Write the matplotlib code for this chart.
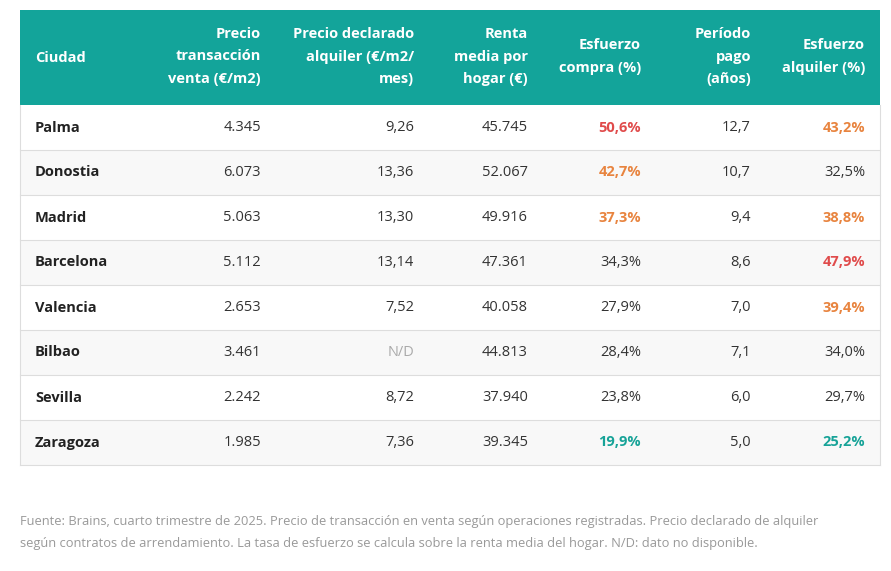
import matplotlib
matplotlib.use("Agg")
import matplotlib.pyplot as plt
from matplotlib.patches import Rectangle

plt.rcParams['font.family'] = ['Open Sans', 'DejaVu Sans']

headers = ["Ciudad", "Precio\ntransacción\nventa (€/m2)", "Precio declarado\nalquiler (€/m2/\nmes)",
           "Renta\nmedia por\nhogar (€)", "Esfuerzo\ncompra (%)", "Período\npago\n(años)", "Esfuerzo\nalquiler (%)"]
cities = ["Palma", "Donostia", "Madrid", "Barcelona", "Valencia", "Bilbao", "Sevilla", "Zaragoza"]
venta = ["4.345", "6.073", "5.063", "5.112", "2.653", "3.461", "2.242", "1.985"]
alquiler = ["9,26", "13,36", "13,30", "13,14", "7,52", "N/D", "8,72", "7,36"]
renta = ["45.745", "52.067", "49.916", "47.361", "40.058", "44.813", "37.940", "39.345"]
esf_compra = ["50,6%", "42,7%", "37,3%", "34,3%", "27,9%", "28,4%", "23,8%", "19,9%"]
periodo = ["12,7", "10,7", "9,4", "8,6", "7,0", "7,1", "6,0", "5,0"]
esf_alq = ["43,2%", "32,5%", "38,8%", "47,9%", "39,4%", "34,0%", "29,7%", "25,2%"]
compra_lvl = ["red", "orange", "orange", None, None, None, None, "teal"]
alq_lvl = ["orange", None, "orange", "red", "orange", None, None, "teal"]

C = {"red": "#e04b4b", "orange": "#e8843f", "teal": "#17a398", None: "#333333"}
TEAL = "#13a49a"

W, H = 891, 571
fig = plt.figure(figsize=(W/100, H/100), dpi=100)
ax = fig.add_axes([0, 0, 1, 1])
ax.set_xlim(0, W); ax.set_ylim(H, 0); ax.axis('off')

x0, x1 = 20, 880
hy0, hy1 = 10, 105
rh = 45
ax.add_patch(Rectangle((x0, hy0), x1-x0, hy1-hy0, color=TEAL, lw=0))
right = [None, 261, 414, 528, 641, 751, 865]
ax.text(35, (hy0+hy1)/2, headers[0], color="white", fontsize=10.5, fontweight="bold", va="center", ha="left")
for j in range(1, 7):
    ax.text(right[j], (hy0+hy1)/2 - 1, headers[j], color="white", fontsize=10.5, fontweight="bold",
            va="center", ha="right", multialignment="right", linespacing=1.75)

cols = [venta, alquiler, renta, esf_compra, periodo, esf_alq]
for i, c in enumerate(cities):
    y = hy1 + i*rh
    ax.add_patch(Rectangle((x0, y), x1-x0, rh, facecolor="#ffffff" if i % 2 == 0 else "#f8f8f8",
                           edgecolor="none"))
    ax.plot([x0, x1], [y+rh, y+rh], color="#dddddd", lw=0.8)
    yc = y + rh/2
    ax.text(35, yc, c, fontsize=10.5, fontweight="bold", color="#222222", va="center")
    for j, col in enumerate(cols, start=1):
        v = col[i]
        color, weight = "#333333", "normal"
        if j == 4 and compra_lvl[i]:
            color, weight = C[compra_lvl[i]], "bold"
        if j == 6 and alq_lvl[i]:
            color, weight = C[alq_lvl[i]], "bold"
        if v == "N/D":
            color = "#aaaaaa"
        ax.text(right[j], yc, v, fontsize=10.5, color=color, fontweight=weight, va="center", ha="right")
ybot = hy1 + len(cities)*rh
ax.plot([x0, x0], [hy1, ybot], color="#dddddd", lw=0.8)
ax.plot([x1, x1], [hy1, ybot], color="#dddddd", lw=0.8)

ax.text(20, 522, "Fuente: Brains, cuarto trimestre de 2025. Precio de transacción en venta según operaciones registradas. Precio declarado de alquiler",
        fontsize=9.3, color="#999999", va="center")
ax.text(20, 544, "según contratos de arrendamiento. La tasa de esfuerzo se calcula sobre la renta media del hogar. N/D: dato no disponible.",
        fontsize=9.3, color="#999999", va="center")
fig.savefig("out.png", dpi=100)
